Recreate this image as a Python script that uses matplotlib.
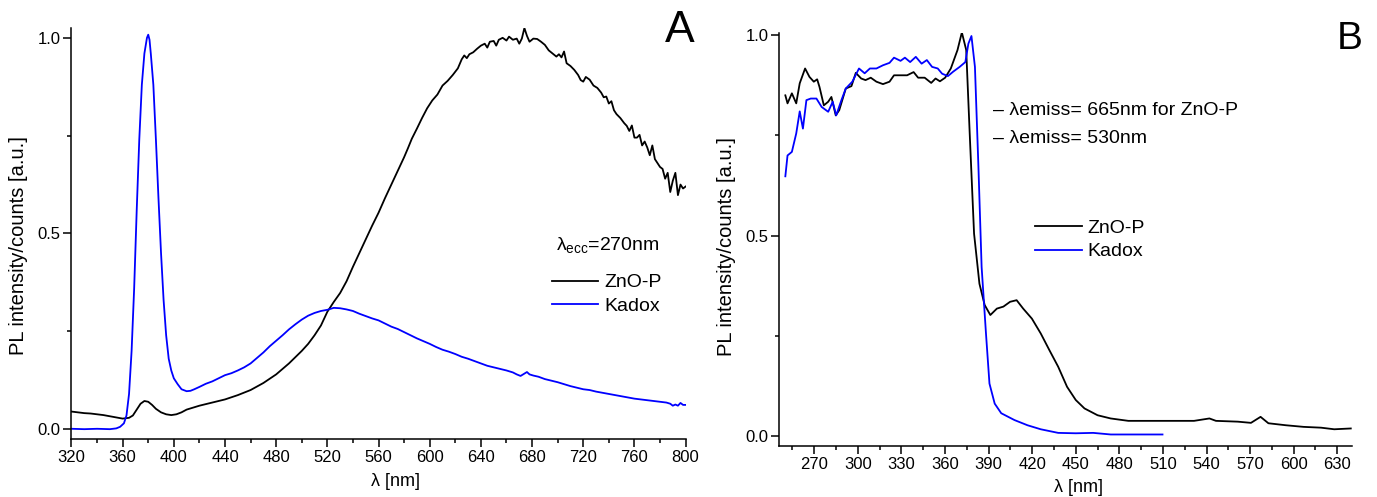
import matplotlib
matplotlib.use("Agg")
import matplotlib.pyplot as plt
from matplotlib.ticker import MultipleLocator

plt.rcParams['font.family'] = ['Liberation Sans', 'DejaVu Sans']
plt.rcParams['mathtext.fontset'] = 'custom'
plt.rcParams['mathtext.rm'] = 'Liberation Sans'
plt.rcParams['mathtext.it'] = 'Liberation Sans'

# ---------------- panel A : emission spectra (exc. 270 nm) ----------------
a_zno_wl = [320, 325, 330, 335, 340, 345, 350, 355, 360, 365, 368, 371, 374, 377, 380,
            383, 386, 390, 394, 398, 402, 406, 410, 415, 420, 430, 440, 450, 460, 470,
            480, 490, 500, 505, 510, 515, 520, 525, 530, 535, 540, 545, 550, 555, 560,
            565, 570, 575, 580, 583, 586, 590, 594, 598, 602, 606, 610, 614, 618, 622,
            625, 627, 629, 631, 634, 637, 640, 643, 645, 647, 650, 652, 654, 657, 660,
            662, 665, 668, 670, 672, 674, 676, 678, 681, 684, 687, 690, 693, 696, 699,
            701, 703, 705, 707, 710, 713, 716, 718, 720, 722, 725, 728, 731, 734, 736,
            738, 740, 742, 744, 746, 749, 752, 754, 756, 758, 760, 762, 764, 766, 768,
            770, 772, 774, 776, 778, 780, 782, 784, 786, 788, 790, 792, 794, 796, 798, 800]
a_zno_pl = [.045, .043, .041, .040, .038, .036, .033, .030, .027, .029, .035, .050, .065, .072, .070,
            .062, .052, .043, .038, .036, .038, .043, .050, .055, .060, .068, .076, .087, .100, .118,
            .140, .168, .200, .218, .240, .265, .300, .325, .348, .378, .415, .450, .485, .520, .553,
            .590, .625, .660, .695, .718, .742, .768, .795, .820, .840, .855, .878, .890, .905, .922,
            .945, .955, .948, .958, .963, .972, .980, .985, .975, .990, .992, .980, .995, 1.000, .993,
            1.003, .995, .998, .985, .998, 1.025, 1.005, .990, .998, .997, .990, .982, .968, .960, .952,
            .958, .950, .965, .935, .928, .918, .905, .892, .888, .900, .893, .878, .872, .860, .848,
            .850, .832, .838, .815, .805, .795, .782, .775, .762, .776, .745, .745, .752, .725, .735,
            .720, .700, .725, .690, .680, .670, .665, .640, .655, .606, .635, .655, .598, .625, .615, .620]

a_kad_wl = [320, 330, 340, 350, 355, 358, 361, 363, 365, 367, 369, 371, 373, 375, 377,
            379, 380, 381, 382, 384, 386, 388, 390, 392, 394, 396, 398, 400, 403, 406,
            410, 413, 416, 420, 425, 430, 435, 440, 445, 450, 455, 460, 465, 470, 475,
            480, 485, 490, 495, 500, 505, 510, 515, 520, 525, 530, 535, 540, 545, 550,
            555, 560, 565, 570, 575, 580, 585, 590, 595, 600, 605, 610, 615, 620, 625,
            630, 635, 640, 645, 650, 655, 660, 665, 668, 671, 674, 676, 678, 681, 685,
            690, 695, 700, 705, 710, 715, 720, 725, 730, 735, 740, 745, 750, 755, 760,
            765, 770, 775, 780, 785, 788, 790, 792, 794, 796, 798, 800]
a_kad_pl = [.001, .000, .001, .000, .002, .006, .015, .035, .090, .200, .360, .560, .740, .880, .960,
            1.000, 1.008, .995, .960, .880, .740, .590, .450, .330, .240, .180, .150, .130, .115, .102,
            .097, .098, .102, .108, .116, .122, .130, .138, .143, .150, .158, .168, .182, .196, .212,
            .226, .240, .255, .268, .280, .290, .297, .302, .305, .310, .309, .306, .302, .295, .289,
            .283, .278, .270, .262, .256, .248, .240, .232, .225, .218, .210, .203, .198, .192, .185,
            .180, .174, .168, .162, .158, .154, .150, .145, .140, .136, .142, .146, .140, .137, .134,
            .128, .124, .120, .115, .110, .106, .102, .100, .096, .093, .090, .087, .084, .081, .078,
            .076, .074, .072, .070, .068, .065, .060, .063, .060, .067, .062, .062]

# ---------------- panel B : excitation spectra ----------------
b_zno_wl = [250.1, 251.6, 254.6, 257.6, 260.0, 263.7, 266.7, 269.7, 272.0, 273.6, 276.6, 279.6,
            281.8, 284.8, 287.2, 291.7, 295.6, 298.6, 302.3, 305.3, 308.9, 312.8, 317.3, 321.8,
            324.9, 329.4, 333.9, 338.4, 341.5, 346.0, 350.5, 353.5, 356.5, 360.1, 364.0, 368.6,
            371.6, 374.6, 377.0, 380.0, 383.7, 387.3, 391.2, 395.7, 400.2, 404.8, 409.3, 413.8,
            419.8, 425.9, 431.9, 437.9, 444.0, 450.0, 456.0, 465.0, 474.0, 486.2, 501.2, 516.3,
            531.4, 542.0, 546.5, 561.5, 570.6, 577.2, 582.6, 594.7, 606.8, 618.8, 627.9, 639.3]
b_zno_pl = [.850, .830, .855, .830, .880, .917, .896, .884, .890, .871, .825, .834,
            .846, .800, .813, .867, .873, .906, .892, .888, .894, .884, .878, .884,
            .900, .900, .900, .908, .894, .894, .881, .892, .885, .894, .917, .963,
            1.007, .963, .755, .505, .380, .327, .302, .318, .323, .335, .339, .318,
            .293, .256, .214, .173, .123, .090, .069, .052, .044, .038, .038, .038,
            .038, .044, .038, .036, .033, .048, .032, .027, .023, .021, .017, .019]

b_kad_wl = [250.1, 251.6, 254.6, 257.6, 260.0, 262.2, 264.6, 267.6, 271.5, 275.1, 279.6, 282.7,
            285.1, 288.7, 291.7, 296.2, 300.8, 304.7, 308.3, 312.8, 317.3, 321.8, 324.9, 329.4,
            332.4, 336.0, 339.9, 343.9, 347.5, 351.1, 355.0, 358.0, 362.0, 365.6, 370.1, 374.0,
            376.1, 378.2, 380.6, 383.0, 385.2, 388.2, 390.6, 394.2, 398.7, 407.8, 416.8, 425.9,
            437.9, 450.0, 462.0, 474.1, 486.2, 509.7]
b_kad_pl = [.648, .700, .709, .755, .810, .767, .838, .842, .842, .821, .809, .834,
            .800, .838, .867, .884, .917, .905, .917, .917, .925, .931, .944, .936,
            .944, .933, .946, .929, .938, .921, .917, .904, .898, .909, .921, .933,
            .979, .998, .921, .672, .422, .256, .131, .081, .057, .040, .027, .017,
            .008, .007, .008, .004, .004, .004]

ZNO_COLOR = 'black'
KAD_COLOR = '#0000ff'


def style_axis(ax, xmajor, xminor):
    ax.spines['top'].set_visible(False)
    ax.spines['right'].set_visible(False)
    ax.spines['left'].set_linewidth(1.1)
    ax.spines['bottom'].set_linewidth(1.1)
    ax.xaxis.set_major_locator(MultipleLocator(xmajor))
    ax.xaxis.set_minor_locator(MultipleLocator(xminor))
    ax.yaxis.set_major_locator(MultipleLocator(0.5))
    ax.yaxis.set_minor_locator(MultipleLocator(0.25))
    ax.tick_params(which='major', direction='out', length=5.5, width=1.1,
                   labelsize=12, pad=2.5)
    ax.tick_params(which='minor', direction='out', length=3, width=1.1)
    ax.set_ylabel('PL intensity/counts [a.u.]', fontsize=14.5)
    ax.set_xlabel('\u03bb [nm]', fontsize=13)
    ax.xaxis.label.set_va('center')


fig = plt.figure(figsize=(13.77, 4.97), dpi=100)

# ---------------- A ----------------
axA = fig.add_axes([0.0519, 0.116, 0.446, 0.8276])
axA.plot(a_zno_wl, a_zno_pl, color=ZNO_COLOR, lw=1.3, label='ZnO-P')
axA.plot(a_kad_wl, a_kad_pl, color=KAD_COLOR, lw=1.3, label='Kadox')
axA.set_xlim(320, 800)
axA.set_ylim(-0.026, 1.025)
style_axis(axA, 40, 20)
axA.yaxis.set_label_coords(-0.071, 0.472)
axA.xaxis.set_label_coords(0.527, -0.102)
axA.text(0.789, 0.472, r'$\mathrm{\lambda_{ecc}}$=270nm', transform=axA.transAxes,
         fontsize=14, va='center', ha='left')
axA.legend(loc='upper left', bbox_to_anchor=(0.782, 0.4026), frameon=False,
           fontsize=14, borderpad=0, borderaxespad=0, handlelength=2.4,
           handletextpad=0.3, labelspacing=0.3)

# ---------------- B ----------------
axB = fig.add_axes([0.566, 0.1032, 0.4157, 0.830])
axB.plot(b_zno_wl, b_zno_pl, color=ZNO_COLOR, lw=1.3, label='ZnO-P')
axB.plot(b_kad_wl, b_kad_pl, color=KAD_COLOR, lw=1.3, label='Kadox')
axB.set_xlim(246, 640)
axB.set_ylim(-0.024, 1.005)
style_axis(axB, 30, 15)
axB.yaxis.set_label_coords(-0.076, 0.482)
axB.xaxis.set_label_coords(0.523, -0.1025)
axB.text(0.3733, 0.8134, '\u2013 \u03bbemiss= 665nm for ZnO-P', transform=axB.transAxes,
         fontsize=14, va='center', ha='left')
axB.text(0.3733, 0.7456, '\u2013 \u03bbemiss= 530nm', transform=axB.transAxes,
         fontsize=14, va='center', ha='left')
axB.legend(loc='upper left', bbox_to_anchor=(0.447, 0.5486), frameon=False,
           fontsize=14, borderpad=0, borderaxespad=0, handlelength=2.4,
           handletextpad=0.3, labelspacing=0.3)

# panel letters
fig.text(665 / 1377, 1 - 42 / 497, 'A', fontsize=32, va='baseline', ha='left')
fig.text(1337 / 1377, 1 - 49 / 497, 'B', fontsize=28, va='baseline', ha='left')

fig.savefig('out.png', dpi=100)
